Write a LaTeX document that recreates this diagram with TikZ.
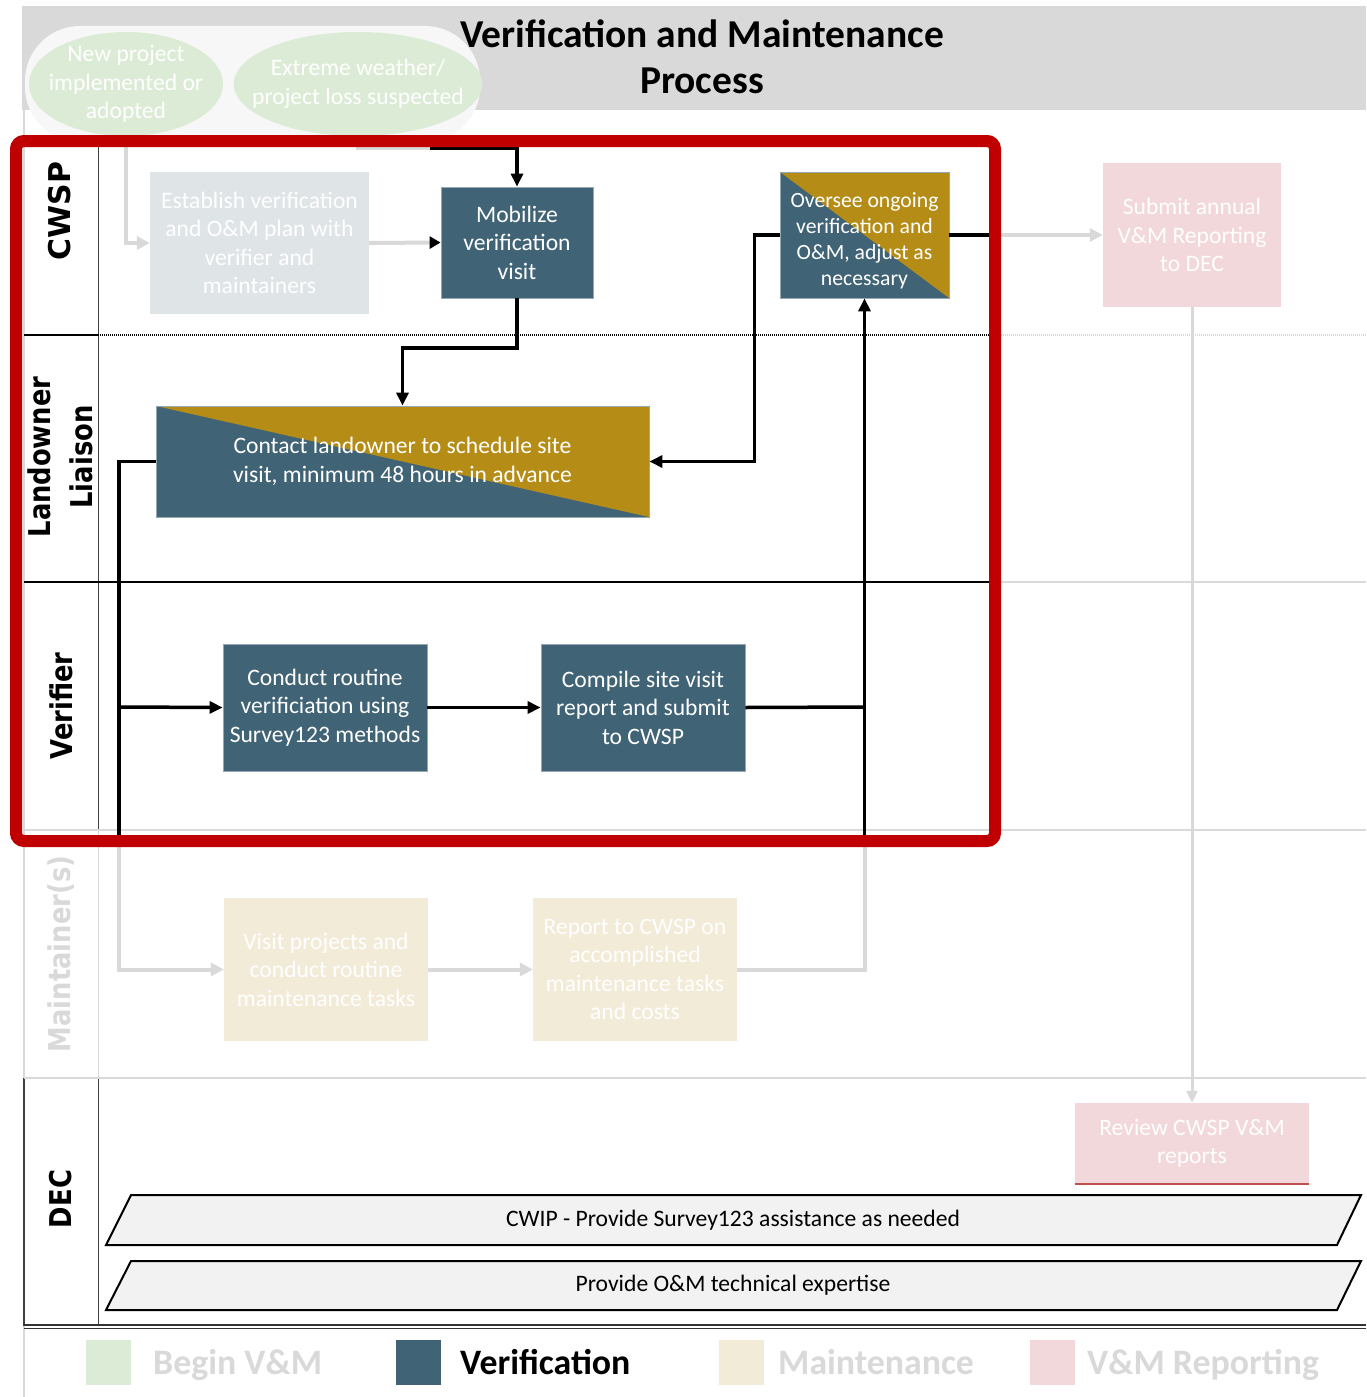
\documentclass[tikz,border=0pt]{standalone}
\usepackage{fontspec}
\setmainfont{Carlito}
\newfontfamily\lanefont{DejaVu Sans}
\usetikzlibrary{arrows.meta,shapes.geometric}
\definecolor{slate}{HTML}{406375}
\definecolor{gold}{HTML}{B58D16}
\definecolor{lgreen}{HTML}{DCEBD5}
\definecolor{beige}{HTML}{F2EBD8}
\definecolor{pinkbox}{HTML}{F2D8DA}
\definecolor{lblue}{HTML}{DFE4E7}
\definecolor{hdrgray}{HTML}{D9D9D9}
\definecolor{cgray}{HTML}{D9D9D9}
\definecolor{redf}{HTML}{C00000}
\definecolor{parafill}{HTML}{F2F2F2}
\definecolor{ovalbg}{HTML}{F7F7F7}
\definecolor{revline}{HTML}{C0504D}
\begin{document}
\begin{tikzpicture}[x=1pt,y=-1pt,
  fs/.style={font=\fontsize{23.6}{28.5}\selectfont},
  box/.style={fs, text=white, align=center, inner sep=0pt, rectangle},
  slatebox/.style={box, fill=slate, draw=slate!55!white, line width=0.8pt},
  splitbox/.style={box, fill=slate, draw=slate!55!white, line width=0.8pt,
    path picture={\fill[gold] (path picture bounding box.north west) -- (path picture bounding box.north east) -- (path picture bounding box.south east) -- cycle;}},
  oval/.style={ellipse, fill=lgreen, text=white, align=center, inner xsep=-18pt, inner ysep=-10pt, fs},
  lane/.style={font=\lanefont\bfseries\fontsize{30}{42}\selectfont, rotate=90, xscale=0.86, inner sep=0pt, align=center},
  bline/.style={draw=black, line width=3.5pt},
  barrow/.style={bline, -{Triangle[length=13pt,width=12pt]}},
  gline/.style={draw=cgray, line width=4pt},
  garrow/.style={gline, -{Triangle[length=13pt,width=13pt]}},
  lanedark/.style={draw=black!75, line width=1.2pt},
  lanelight/.style={draw=cgray, line width=1.5pt},
  para/.style={draw=black, line width=2pt, fill=parafill},
  paratext/.style={font=\fontsize{23.6}{28}\selectfont, inner sep=0pt},
  legsq/.style={minimum width=45pt, minimum height=45pt, inner sep=0pt},
  legtxt/.style={font=\fontsize{35.8}{40}\selectfont\bfseries, inner sep=0pt, anchor=base west},
  title/.style={font=\fontsize{39.5}{46}\selectfont\bfseries, align=center, inner sep=0pt}
]
\useasboundingbox (0,0) rectangle (1366,1397);
\fill[white] (0,0) rectangle (1366,1397);
% header
\fill[hdrgray] (22,6) rectangle (1366,110);
\node[title] (title) at (702,57) {Verification and Maintenance\\Process};
\fill[ovalbg, rounded corners=55pt] (25,26) rectangle (480,142);
% lane lines
\draw[lanelight] (24,110) -- (24,1397);
\draw[lanedark] (24,1078) -- (24,1326);
\draw[lanedark, line width=1pt] (98,145) -- (98,830);
\draw[lanelight, line width=1pt] (98,830) -- (98,1078);
\draw[lanedark, line width=1pt] (98,1078) -- (98,1325);
\draw[draw=black, line width=1.2pt] (24,335) -- (98,335);
\draw[draw=black, line width=1.3pt, dash pattern=on 1.2pt off 0.8pt] (98,335) -- (995,335);
\draw[draw=cgray, line width=1.3pt, dash pattern=on 1.2pt off 0.8pt] (995,335) -- (1366,335);
\draw[draw=black, line width=1.2pt] (24,582) -- (995,582);
\draw[lanelight] (995,582) -- (1366,582);
\draw[lanelight] (24,830) -- (1366,830);
\draw[lanelight] (24,1078) -- (1366,1078);
\draw[draw=black!80, line width=1.2pt] (24,1325) -- (1366,1325);
\draw[draw=black!80, line width=1.2pt] (24,1328.5) -- (1366,1328.5);
% start ovals
\node[oval, minimum width=194pt, minimum height=104pt] (newp) at (126,84) {New project\\implemented or\\adopted};
\node[oval, minimum width=238pt, minimum height=104pt] (ext) at (358,84) {Extreme weather/\\project loss suspected};
% boxes
\node[box, fill=lblue, minimum width=219pt, minimum height=142pt] (est) at (259.5,243) {Establish verification\\and O\&M plan with\\verifier and\\maintainers};
\node[slatebox, minimum width=152pt, minimum height=111pt] (mob) at (517,242.5) {Mobilize\\verification\\visit};
\node[splitbox, minimum width=169pt, minimum height=126pt, font=\fontsize{21.7}{26}\selectfont] (ovs) at (864.5,235) {\rule{0pt}{27pt}Oversee ongoing\\verification and\\O\&M, adjust as\\necessary};
\node[box, fill=pinkbox, minimum width=178pt, minimum height=144pt] (sub) at (1192,235) {Submit annual\\V\&M Reporting\\to DEC};
\node[splitbox, minimum width=493pt, minimum height=111pt] (contact) at (402.5,461.5) {Contact landowner to schedule site\\visit, minimum 48 hours in advance};
\node[slatebox, minimum width=204pt, minimum height=127pt] (cond) at (325,707.5) {Conduct routine\\verificiation using\\Survey123 methods};
\node[slatebox, minimum width=204pt, minimum height=127pt] (comp) at (643,707.5) {Compile site visit\\report and submit\\to CWSP};
\node[box, fill=beige, minimum width=204pt, minimum height=143pt] (visit) at (326,969.5) {Visit projects and\\conduct routine\\maintenance tasks};
\node[box, fill=beige, minimum width=204pt, minimum height=143pt] (report) at (635,969.5) {Report to CWSP on\\accomplished\\maintenance tasks\\and costs};
\node[box, fill=pinkbox, minimum width=234pt, minimum height=81pt] (rev) at (1192,1143.5) {Review CWSP V\&M\\reports};
\draw[draw=revline, line width=2pt] (rev.south west) -- (rev.south east);
% DEC bars
\draw[para] (131,1195) -- (1361,1195) -- (1337,1245) -- (106,1245) -- cycle;
\node[paratext] (cwip) at (733,1220) {CWIP - Provide Survey123 assistance as needed};
\draw[para] (131,1261) -- (1361,1261) -- (1337,1310) -- (106,1310) -- cycle;
\node[paratext] (omx) at (733,1285.5) {Provide O\&M technical expertise};
% coordinates
\coordinate (extj) at (430,148);
\coordinate (ovsj) at (995,235);
\coordinate (lj) at (119,838);
\coordinate (lb) at (119,707);
\coordinate (rj) at (865.75,707);
\coordinate (rjb) at (864.5,838);
% connectors
\draw[garrow] (newp.south) |- (est.west);
\draw[gline] (ext.south) |- (extj);
\draw[barrow] (extj) -| (mob.north);
\draw[gline, -{Triangle[length=11pt,width=12pt,color=black]}] (est.east) -- (mob.west);
\draw[barrow] (mob.south) -- ++(0,49.5) -| (contact.north);
\draw[barrow] (ovs.west) -- ++(-25,0) |- (contact.east);
\draw[bline] (ovs.east) -- (ovsj);
\draw[garrow] (ovsj) -- (sub.west);
\draw[gline, line width=3pt, -{Triangle[length=12pt,width=11pt]}] (sub.south) -- (rev.north);
\draw[bline] (contact.west) -| (lj);
\draw[garrow] (lj) |- (visit.west);
\draw[barrow] (lb) -- (cond.west);
\draw[barrow] (cond.east) -- (comp.west);
\draw[bline] (comp.east) -- (rj);
\draw[garrow] (visit.east) -- (report.west);
\draw[gline] (report.east) -| (rjb);
\draw[barrow] (rjb) -- (ovs.south);
% red frame
\draw[draw=redf, line width=12pt, rounded corners=8pt] (16,141) rectangle (995,841);
% lane labels
\node[lane, xscale=1.16] (lcwsp) at (60,211) {CWSP};
\node[lane] (lland) at (60,457) {Landowner\\Liaison};
\node[lane] (lver) at (61,706) {Verifier};
\node[lane, text=hdrgray] (lmnt) at (61,954) {Maintainer(s)};
\node[lane] (ldec) at (61,1199) {DEC};
% legend
\node[legsq, fill=lgreen] (lg1) at (108.5,1362.5) {};
\node[legtxt, text=hdrgray] (lt1) at (153,1374) {Begin V\&M};
\node[legsq, fill=slate] (lg2) at (418,1362.5) {};
\node[legtxt, text=black] (lt2) at (460,1374) {Verification};
\node[legsq, fill=beige] (lg3) at (741,1362.5) {};
\node[legtxt, text=hdrgray] (lt3) at (778,1374) {Maintenance};
\node[legsq, fill=pinkbox] (lg4) at (1052,1362.5) {};
\node[legtxt, text=hdrgray] (lt4) at (1087,1374) {V\&M Reporting};
\end{tikzpicture}
\end{document}
